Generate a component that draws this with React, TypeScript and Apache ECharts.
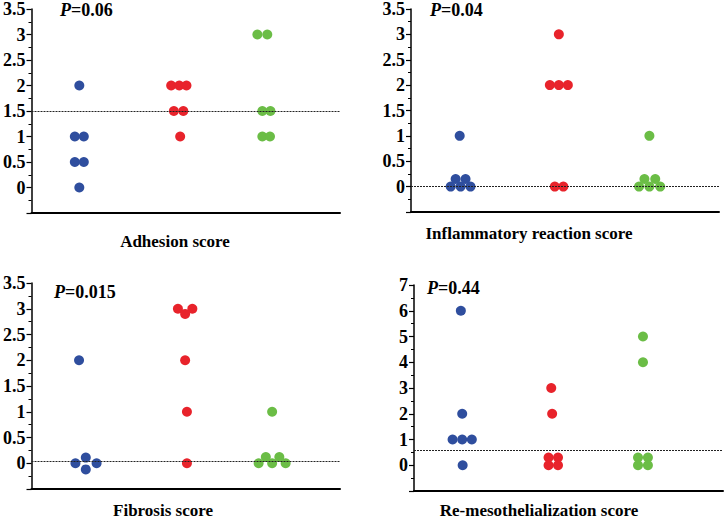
import React, { useEffect, useRef } from "react";
import * as echarts from "echarts";

// ---- Data ----
const panelTitles = [
  "Adhesion score",
  "Inflammatory reaction score",
  "Fibrosis score",
  "Re-mesothelialization score",
];
const pValues = ["0.06", "0.04", "0.015", "0.44"];
const refLines = [1.5, 0, 0.03, 0.58];

// Panel 1: Adhesion
const p1Blue = [2, 1, 1, 0.5, 0.5, 0];
const p1BlueJit = [0, -0.5, 0.5, -0.5, 0.5, 0];
const p1Red = [2, 2, 2, 1.5, 1.5, 1];
const p1RedJit = [-0.9, 0, 0.8, -0.6, 0.45, 0.1];
const p1Green = [3, 3, 1.5, 1.5, 1, 1];
const p1GreenJit = [-0.85, 0.25, -0.3, 0.6, -0.3, 0.55];

// Panel 2: Inflammatory reaction
const p2Blue = [1, 0, 0, 0, 0.15, 0.15];
const p2BlueJit = [-0.1, -1.1, 0, 1.1, -0.55, 0.55];
const p2Red = [3, 2, 2, 2, 0, 0];
const p2RedJit = [0, -1, 0, 1, -0.45, 0.5];
const p2Green = [1, 0, 0, 0, 0.15, 0.15];
const p2GreenJit = [0, -1.15, 0, 1.2, -0.55, 0.65];

// Panel 3: Fibrosis
const p3Blue = [2, 0, 0, 0.11, -0.12];
const p3BlueJit = [-0.75, -1.15, 1.2, 0, 0];
const p3Red = [3, 3, 2.9, 2, 1, 0];
const p3RedJit = [-0.8, 0.8, 0, 0, 0.2, 0.2];
const p3Green = [1, 0, 0, 0, 0.12, 0.12];
const p3GreenJit = [0, -1.5, 0, 1.5, -0.7, 0.8];

// Panel 4: Re-mesothelialization
const p4Blue = [6, 2, 1, 1, 1, 0];
const p4BlueJit = [-0.15, 0, -1.07, 0, 1.07, 0.05];
const p4Red = [3, 2, 0.3, 0.3, 0, 0];
const p4RedJit = [-0.2, -0.1, -0.5, 0.55, -0.5, 0.55];
const p4Green = [5, 4, 0.3, 0.3, 0, 0];
const p4GreenJit = [0, 0, -0.55, 0.55, -0.55, 0.55];

// group positions along each panel's x axis (0-100)
const groupPos = [
  [15.5, 47.9, 75.7],
  [16.1, 48.0, 77.4],
  [17.6, 49.8, 78.0],
  [15.6, 45.0, 74.1],
];

const yRanges = [
  { min: -0.5, max: 3.5, interval: 0.5 },
  { min: -0.5, max: 3.5, interval: 0.5 },
  { min: -0.5, max: 3.5, interval: 0.5 },
  { min: -1, max: 7, interval: 1 },
];

const groups = [
  [
    [p1Blue, p1BlueJit],
    [p1Red, p1RedJit],
    [p1Green, p1GreenJit],
  ],
  [
    [p2Blue, p2BlueJit],
    [p2Red, p2RedJit],
    [p2Green, p2GreenJit],
  ],
  [
    [p3Blue, p3BlueJit],
    [p3Red, p3RedJit],
    [p3Green, p3GreenJit],
  ],
  [
    [p4Blue, p4BlueJit],
    [p4Red, p4RedJit],
    [p4Green, p4GreenJit],
  ],
];

// ---- Styles / layout ----
const COLORS = ["#2f4e9e", "#e8232b", "#6bbd46"];
const DOT = 9;
const FONT = "Liberation Serif";

const grids = [
  { left: 31, top: 7, width: 309, height: 206 },
  { left: 411, top: 7, width: 308, height: 205 },
  { left: 31, top: 283, width: 309, height: 206 },
  { left: 414, top: 285, width: 309, height: 206 },
];
const titlePos = [
  [175, 241],
  [529, 233],
  [163, 510],
  [539, 510],
];
const pPos = [
  [60, 10],
  [430, 10],
  [54, 292],
  [427, 288],
];

export default function App() {
  const ref = useRef<HTMLDivElement>(null);
  useEffect(() => {
    if (!ref.current) return;
    const chart = echarts.init(ref.current, null, { renderer: "svg" });

    const xAxis = grids.map((_, i) => ({
      type: "value",
      gridIndex: i,
      min: 0,
      max: 100,
      axisLine: { show: true, onZero: false, lineStyle: { color: "#000", width: 2 } },
      axisTick: { show: false },
      axisLabel: { show: false },
      splitLine: { show: false },
    }));

    const yAxis = grids.map((_, i) => ({
      type: "value",
      gridIndex: i,
      min: yRanges[i].min,
      max: yRanges[i].max,
      interval: yRanges[i].interval,
      axisLine: { show: true, onZero: false, lineStyle: { color: "#000", width: 1.5 } },
      axisTick: { show: true, inside: false, length: 5, lineStyle: { color: "#000", width: 1.2 } },
      minorTick: { show: true, splitNumber: 2, length: 3, lineStyle: { color: "#000", width: 1 } },
      splitLine: { show: false },
      minorSplitLine: { show: false },
      axisLabel: {
        margin: 6,
        color: "#000",
        fontFamily: FONT,
        fontWeight: "bold",
        fontSize: 18,
        formatter: (v: number) => (v < 0 ? "" : String(v)),
      },
    }));

    const series: any[] = [];
    groups.forEach((panel, pi) => {
      series.push({
        type: "scatter",
        xAxisIndex: pi,
        yAxisIndex: pi,
        data: [],
        z: 1,
        markLine: {
          silent: true,
          symbol: "none",
          label: { show: false },
          lineStyle: { type: [2, 1], color: "#222", width: 1 },
          data: [{ yAxis: refLines[pi] }],
        },
      });
      panel.forEach(([vals, jit], gi) => {
        series.push({
          type: "scatter",
          xAxisIndex: pi,
          yAxisIndex: pi,
          z: 3,
          symbol: "circle",
          symbolSize: 10,
          itemStyle: { color: COLORS[gi], opacity: 1 },
          data: (vals as number[]).map((v, k) => ({
            value: [groupPos[pi][gi], v],
            symbolOffset: [(jit as number[])[k] * DOT, 0],
          })),
        });
      });
    });

    const graphic: any[] = [];
    panelTitles.forEach((t, i) => {
      graphic.push({
        type: "text",
        x: titlePos[i][0],
        y: titlePos[i][1],
        style: {
          text: t,
          fill: "#000",
          fontFamily: FONT,
          fontWeight: "bold",
          fontSize: 17,
          align: "center",
          verticalAlign: "middle",
        },
      });
      graphic.push({
        type: "text",
        x: pPos[i][0],
        y: pPos[i][1],
        style: {
          text: "{i|P}{n|=" + pValues[i] + "}",
          verticalAlign: "middle",
          align: "left",
          rich: {
            i: { fontFamily: FONT, fontWeight: "bold", fontStyle: "italic", fontSize: 18, fill: "#000" },
            n: { fontFamily: FONT, fontWeight: "bold", fontSize: 18, fill: "#000" },
          },
        },
      });
    });

    chart.setOption({
      animation: false,
      backgroundColor: "#fff",
      grid: grids.map((g) => ({ ...g, containLabel: false })),
      xAxis,
      yAxis,
      series,
      graphic,
    });
    return () => chart.dispose();
  }, []);

  return (
    <div
      ref={ref}
      style={{ position: "fixed", left: 0, top: 0, width: 725, height: 519 }}
    />
  );
}
